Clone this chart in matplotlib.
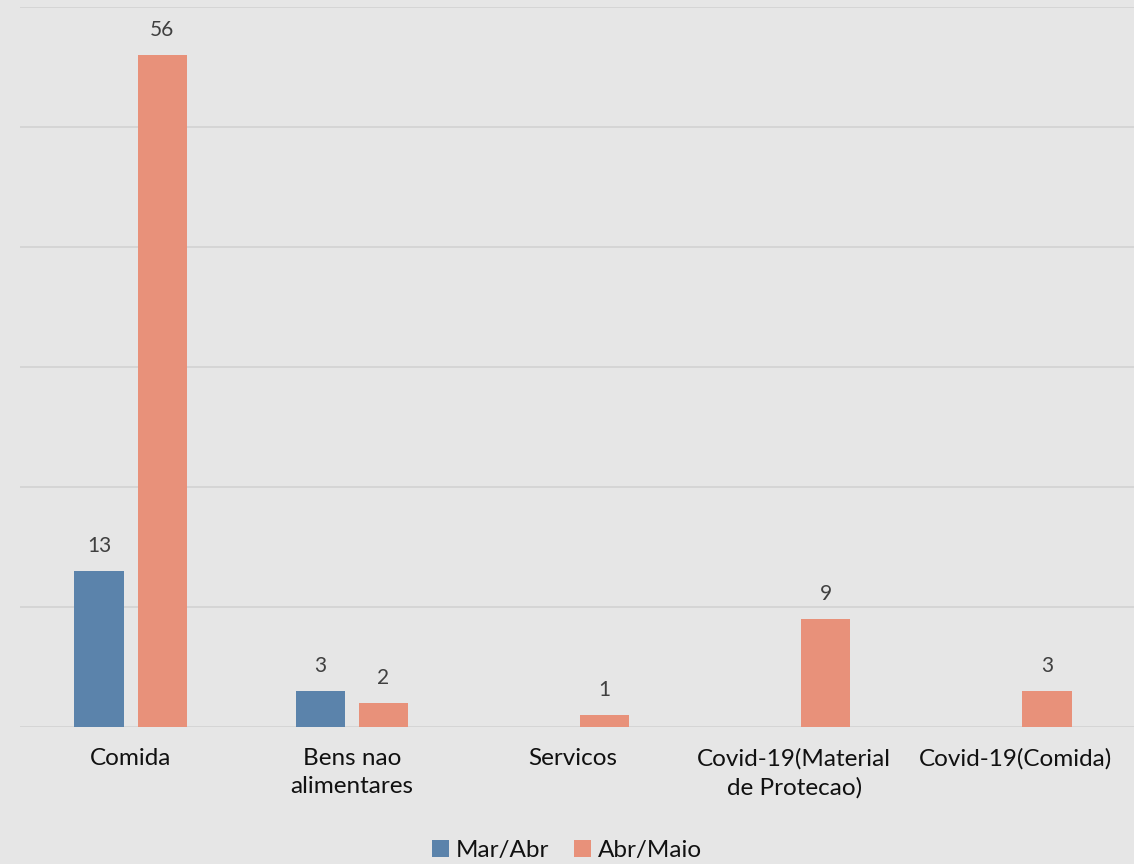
import matplotlib

matplotlib.use("Agg")
import matplotlib.pyplot as plt
import numpy as np

plt.rcParams["font.family"] = ["Lato", "DejaVu Sans"]

categories = ["Comida", "Bens nao\nalimentares", "Servicos",
              "Covid-19(Material\nde Protecao)", "Covid-19(Comida)"]
series_names = ["Mar/Abr", "Abr/Maio"]
mar_abr = [13, 3, 0, 0, 0]
abr_maio = [56, 2, 1, 9, 3]

BG = "#e6e6e6"
BLUE = "#5b83ab"
ORANGE = "#e8917a"

fig = plt.figure(figsize=(11.34, 8.64), dpi=100, facecolor=BG)
ax = fig.add_axes([0.0176, 0.1586, 0.9824, 0.8334])
ax.set_facecolor(BG)

x = np.arange(len(categories))
w = 0.222
off = 0.1425
bars_a = ax.bar(x - off, mar_abr, w, color=BLUE, label=series_names[0], zorder=3)
bars_b = ax.bar(x + off, abr_maio, w, color=ORANGE, label=series_names[1], zorder=3)

# value labels only where a bar is drawn
for bars, vals in [(bars_a, mar_abr), (bars_b, abr_maio)]:
    for b, v in zip(bars, vals):
        if v == 0:
            continue
        ax.annotate(str(v), (b.get_x() + b.get_width() / 2, v),
                    xytext=(0, 11), textcoords="offset points",
                    ha="center", va="bottom", fontsize=15, color="#404040")

ax.set_xlim(-0.5, len(categories) - 0.5 + 0.036)
ax.set_ylim(0, 60)
ax.set_yticks(np.arange(0, 61, 10))
ax.yaxis.grid(True, color="#d4d4d4", lw=1.3, zorder=0)
ax.tick_params(axis="y", left=False, labelleft=False)
ax.tick_params(axis="x", bottom=False, pad=12)
ax.set_xticks(x)
ax.set_xticklabels(categories, fontsize=17.5, color="#111111", linespacing=1.4)
for s in ax.spines.values():
    s.set_visible(False)

fig.legend(handles=[bars_a, bars_b], loc="center", bbox_to_anchor=(0.5, 0.016),
           ncol=2, frameon=False, fontsize=17.5, handlelength=0.7,
           handleheight=0.7, handletextpad=0.3, columnspacing=1.0,
           labelcolor="#111111")

fig.savefig("out.png", dpi=100, facecolor=BG)
